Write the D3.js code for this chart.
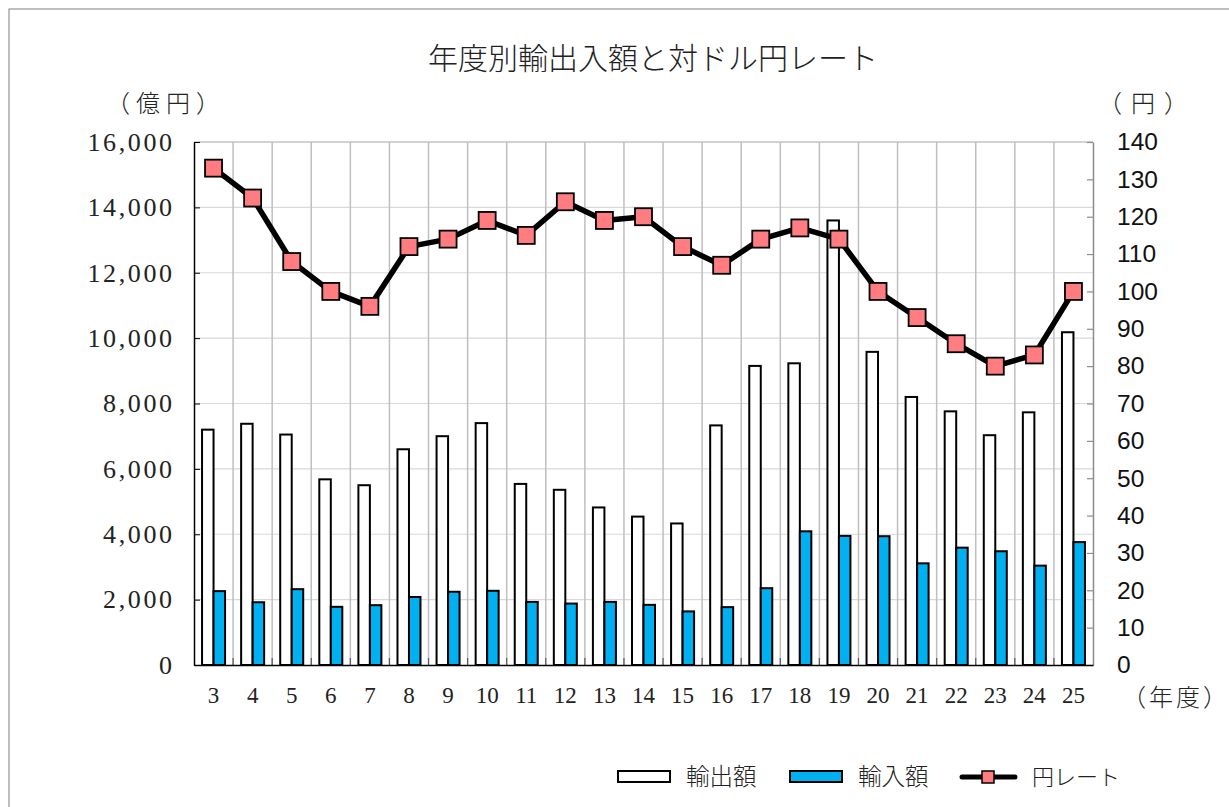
<!DOCTYPE html>
<html>
<head>
  <meta charset="utf-8">
  <title>年度別輸出入額と対ドル円レート</title>
  <style>
    body { margin: 0; background: #fff; }
    svg#canvas { display: block; }
  </style>
</head>
<body>
  <svg id="canvas"></svg>
  <script src="https://d3js.org/d3.v7.min.js"></script>
  <script>
    // 年度 (平成)
    const years = ["3","4","5","6","7","8","9","10","11","12","13","14","15","16","17","18","19","20","21","22","23","24","25"];
    // 輸出額 (億円)
    const exports_ = [7200,7380,7050,5680,5500,6600,7000,7400,5540,5360,4820,4540,4330,7330,9150,9230,13600,9580,8200,7760,7030,7730,10180];
    // 輸入額 (億円)
    const imports_ = [2260,1920,2320,1780,1830,2080,2240,2270,1930,1880,1930,1840,1640,1770,2350,4090,3950,3940,3110,3590,3480,3040,3760];
    // 対ドル円レート (円)
    const rates = [133,125,108,100,96,112,114,119,115,124,119,120,112,107,114,117,114,100,93,86,80,83,100];
    const leftTicks = [0,2000,4000,6000,8000,10000,12000,14000,16000];
    const rightTicks = [0,10,20,30,40,50,60,70,80,90,100,110,120,130,140];

    const W = 1229, H = 807;
    const plot = { left: 194, right: 1093, top: 142, bottom: 665 };

    const svg = d3.select("#canvas").attr("width", W).attr("height", H);

    // outer frame
    svg.append("rect").attr("x", 9).attr("y", 9).attr("width", W).attr("height", H)
      .attr("fill", "none").attr("stroke", "#7f7f7f").attr("stroke-width", 1);

    const x = d3.scaleBand().domain(years).range([plot.left, plot.right]).padding(0);
    const xs = d3.scaleBand().domain(["exp", "imp"]).range([0, x.bandwidth()]).paddingInner(0).paddingOuter(0.7);
    const y = d3.scaleLinear().domain([0, 16000]).range([plot.bottom, plot.top]);
    const yR = d3.scaleLinear().domain([0, 140]).range([plot.bottom, plot.top]);

    const jp = "'Noto Sans CJK JP', sans-serif";
    const serif = "'Liberation Serif', serif";
    const sans = "'Liberation Sans', sans-serif";

    // horizontal grid
    svg.append("g").selectAll("line").data(leftTicks.slice(1)).join("line")
      .attr("x1", plot.left).attr("x2", plot.right)
      .attr("y1", d => y(d)).attr("y2", d => y(d))
      .attr("stroke", d => d === 16000 ? "#a6a6a6" : "#d9d9d9").attr("stroke-width", 1.2);

    // vertical grid at category boundaries
    svg.append("g").selectAll("line").data(years.slice(1)).join("line")
      .attr("x1", d => x(d)).attr("x2", d => x(d))
      .attr("y1", plot.top).attr("y2", plot.bottom)
      .attr("stroke", "#bfbfbf").attr("stroke-width", 1.5);

    // bottom boundary ticks
    svg.append("g").selectAll("line").data(years.slice(1)).join("line")
      .attr("x1", d => x(d)).attr("x2", d => x(d))
      .attr("y1", plot.bottom).attr("y2", plot.bottom - 7)
      .attr("stroke", "#595959").attr("stroke-width", 1.2);

    // bars
    const grp = svg.append("g").selectAll("g").data(years).join("g")
      .attr("transform", d => `translate(${x(d)},0)`);
    grp.append("rect")
      .attr("x", xs("exp")).attr("width", xs.bandwidth())
      .attr("y", (d, i) => y(exports_[i])).attr("height", (d, i) => y(0) - y(exports_[i]))
      .attr("fill", "#fff").attr("stroke", "#000").attr("stroke-width", 2);
    grp.append("rect")
      .attr("x", xs("imp")).attr("width", xs.bandwidth())
      .attr("y", (d, i) => y(imports_[i])).attr("height", (d, i) => y(0) - y(imports_[i]))
      .attr("fill", "#00b0f0").attr("stroke", "#000").attr("stroke-width", 2);

    // left axis
    const gl = svg.append("g").attr("transform", `translate(${plot.left},0)`)
      .call(d3.axisLeft(y).tickValues(leftTicks).tickSizeInner(-6).tickSizeOuter(0).tickPadding(22)
        .tickFormat(d3.format(",")));
    gl.select(".domain").attr("stroke", "#000").attr("stroke-width", 1.5);
    gl.selectAll(".tick line").attr("stroke", "#000");
    gl.selectAll("text").attr("font-family", serif).attr("font-size", 26).attr("fill", "#222")
      .attr("letter-spacing", 2.6).attr("dx", 2.6);

    // right axis
    const gr = svg.append("g").attr("transform", `translate(${plot.right},0)`)
      .call(d3.axisRight(yR).tickValues(rightTicks).tickSizeInner(-6).tickSizeOuter(0).tickPadding(24));
    gr.select(".domain").attr("stroke", "#8c8c8c").attr("stroke-width", 1.5);
    gr.selectAll(".tick line").attr("stroke", "#8c8c8c").attr("stroke-width", 1.2);
    gr.selectAll("text").attr("font-family", sans).attr("font-size", 24.5).attr("fill", "#111");

    // bottom axis (baseline + labels)
    const gb = svg.append("g").attr("transform", `translate(0,${plot.bottom})`)
      .call(d3.axisBottom(x).tickSize(0).tickPadding(22));
    gb.select(".domain").attr("stroke", "#000").attr("stroke-width", 1.5);
    gb.selectAll("text").attr("font-family", serif).attr("font-size", 23).attr("fill", "#222");

    // rate line
    const line = d3.line().x((d, i) => x(years[i]) + x.bandwidth() / 2).y(d => yR(d));
    svg.append("path").datum(rates).attr("d", line)
      .attr("fill", "none").attr("stroke", "#000").attr("stroke-width", 5.5).attr("stroke-linejoin", "round");
    svg.append("g").selectAll("rect").data(rates).join("rect")
      .attr("x", (d, i) => x(years[i]) + x.bandwidth() / 2 - 8.5)
      .attr("y", d => yR(d) - 8.5)
      .attr("width", 17).attr("height", 17)
      .attr("fill", "#ff7c80").attr("stroke", "#000").attr("stroke-width", 1.8);

    // title and units
    svg.append("text").attr("x", 653).attr("y", 69).attr("text-anchor", "middle")
      .attr("font-family", jp).attr("font-weight", 300).attr("font-size", 30).attr("fill", "#222")
      .text("年度別輸出入額と対ドル円レート");
    svg.append("text").attr("x", 106).attr("y", 112).attr("letter-spacing", 6)
      .attr("font-family", jp).attr("font-weight", 300).attr("font-size", 24).attr("fill", "#222")
      .text("（億円）");
    svg.append("text").attr("x", 1098).attr("y", 112).attr("letter-spacing", 9)
      .attr("font-family", jp).attr("font-weight", 300).attr("font-size", 24).attr("fill", "#222")
      .text("（円）");
    svg.append("text").attr("x", 1122).attr("y", 706)
      .attr("textLength", 105).attr("lengthAdjust", "spacing")
      .attr("font-family", jp).attr("font-weight", 300).attr("font-size", 24).attr("fill", "#222")
      .text("（年度）");

    // legend
    const lg = svg.append("g");
    lg.append("rect").attr("x", 618).attr("y", 771).attr("width", 52).attr("height", 11)
      .attr("fill", "#fff").attr("stroke", "#000").attr("stroke-width", 2);
    lg.append("text").attr("x", 686).attr("y", 785).attr("font-family", jp).attr("font-weight", 300)
      .attr("font-size", 23.5).attr("fill", "#222").text("輸出額");
    lg.append("rect").attr("x", 790).attr("y", 771).attr("width", 52).attr("height", 11)
      .attr("fill", "#00b0f0").attr("stroke", "#000").attr("stroke-width", 2);
    lg.append("text").attr("x", 858).attr("y", 785).attr("font-family", jp).attr("font-weight", 300)
      .attr("font-size", 23.5).attr("fill", "#222").text("輸入額");
    lg.append("line").attr("x1", 962).attr("x2", 1015).attr("y1", 777).attr("y2", 777)
      .attr("stroke", "#000").attr("stroke-width", 5).attr("stroke-linecap", "round");
    lg.append("rect").attr("x", 982).attr("y", 771).attr("width", 12).attr("height", 12)
      .attr("fill", "#ff7c80").attr("stroke", "#000").attr("stroke-width", 1.5);
    lg.append("text").attr("x", 1032).attr("y", 785).attr("font-family", jp).attr("font-weight", 300)
      .attr("font-size", 22).attr("fill", "#222").text("円レート");
  </script>
</body>
</html>
